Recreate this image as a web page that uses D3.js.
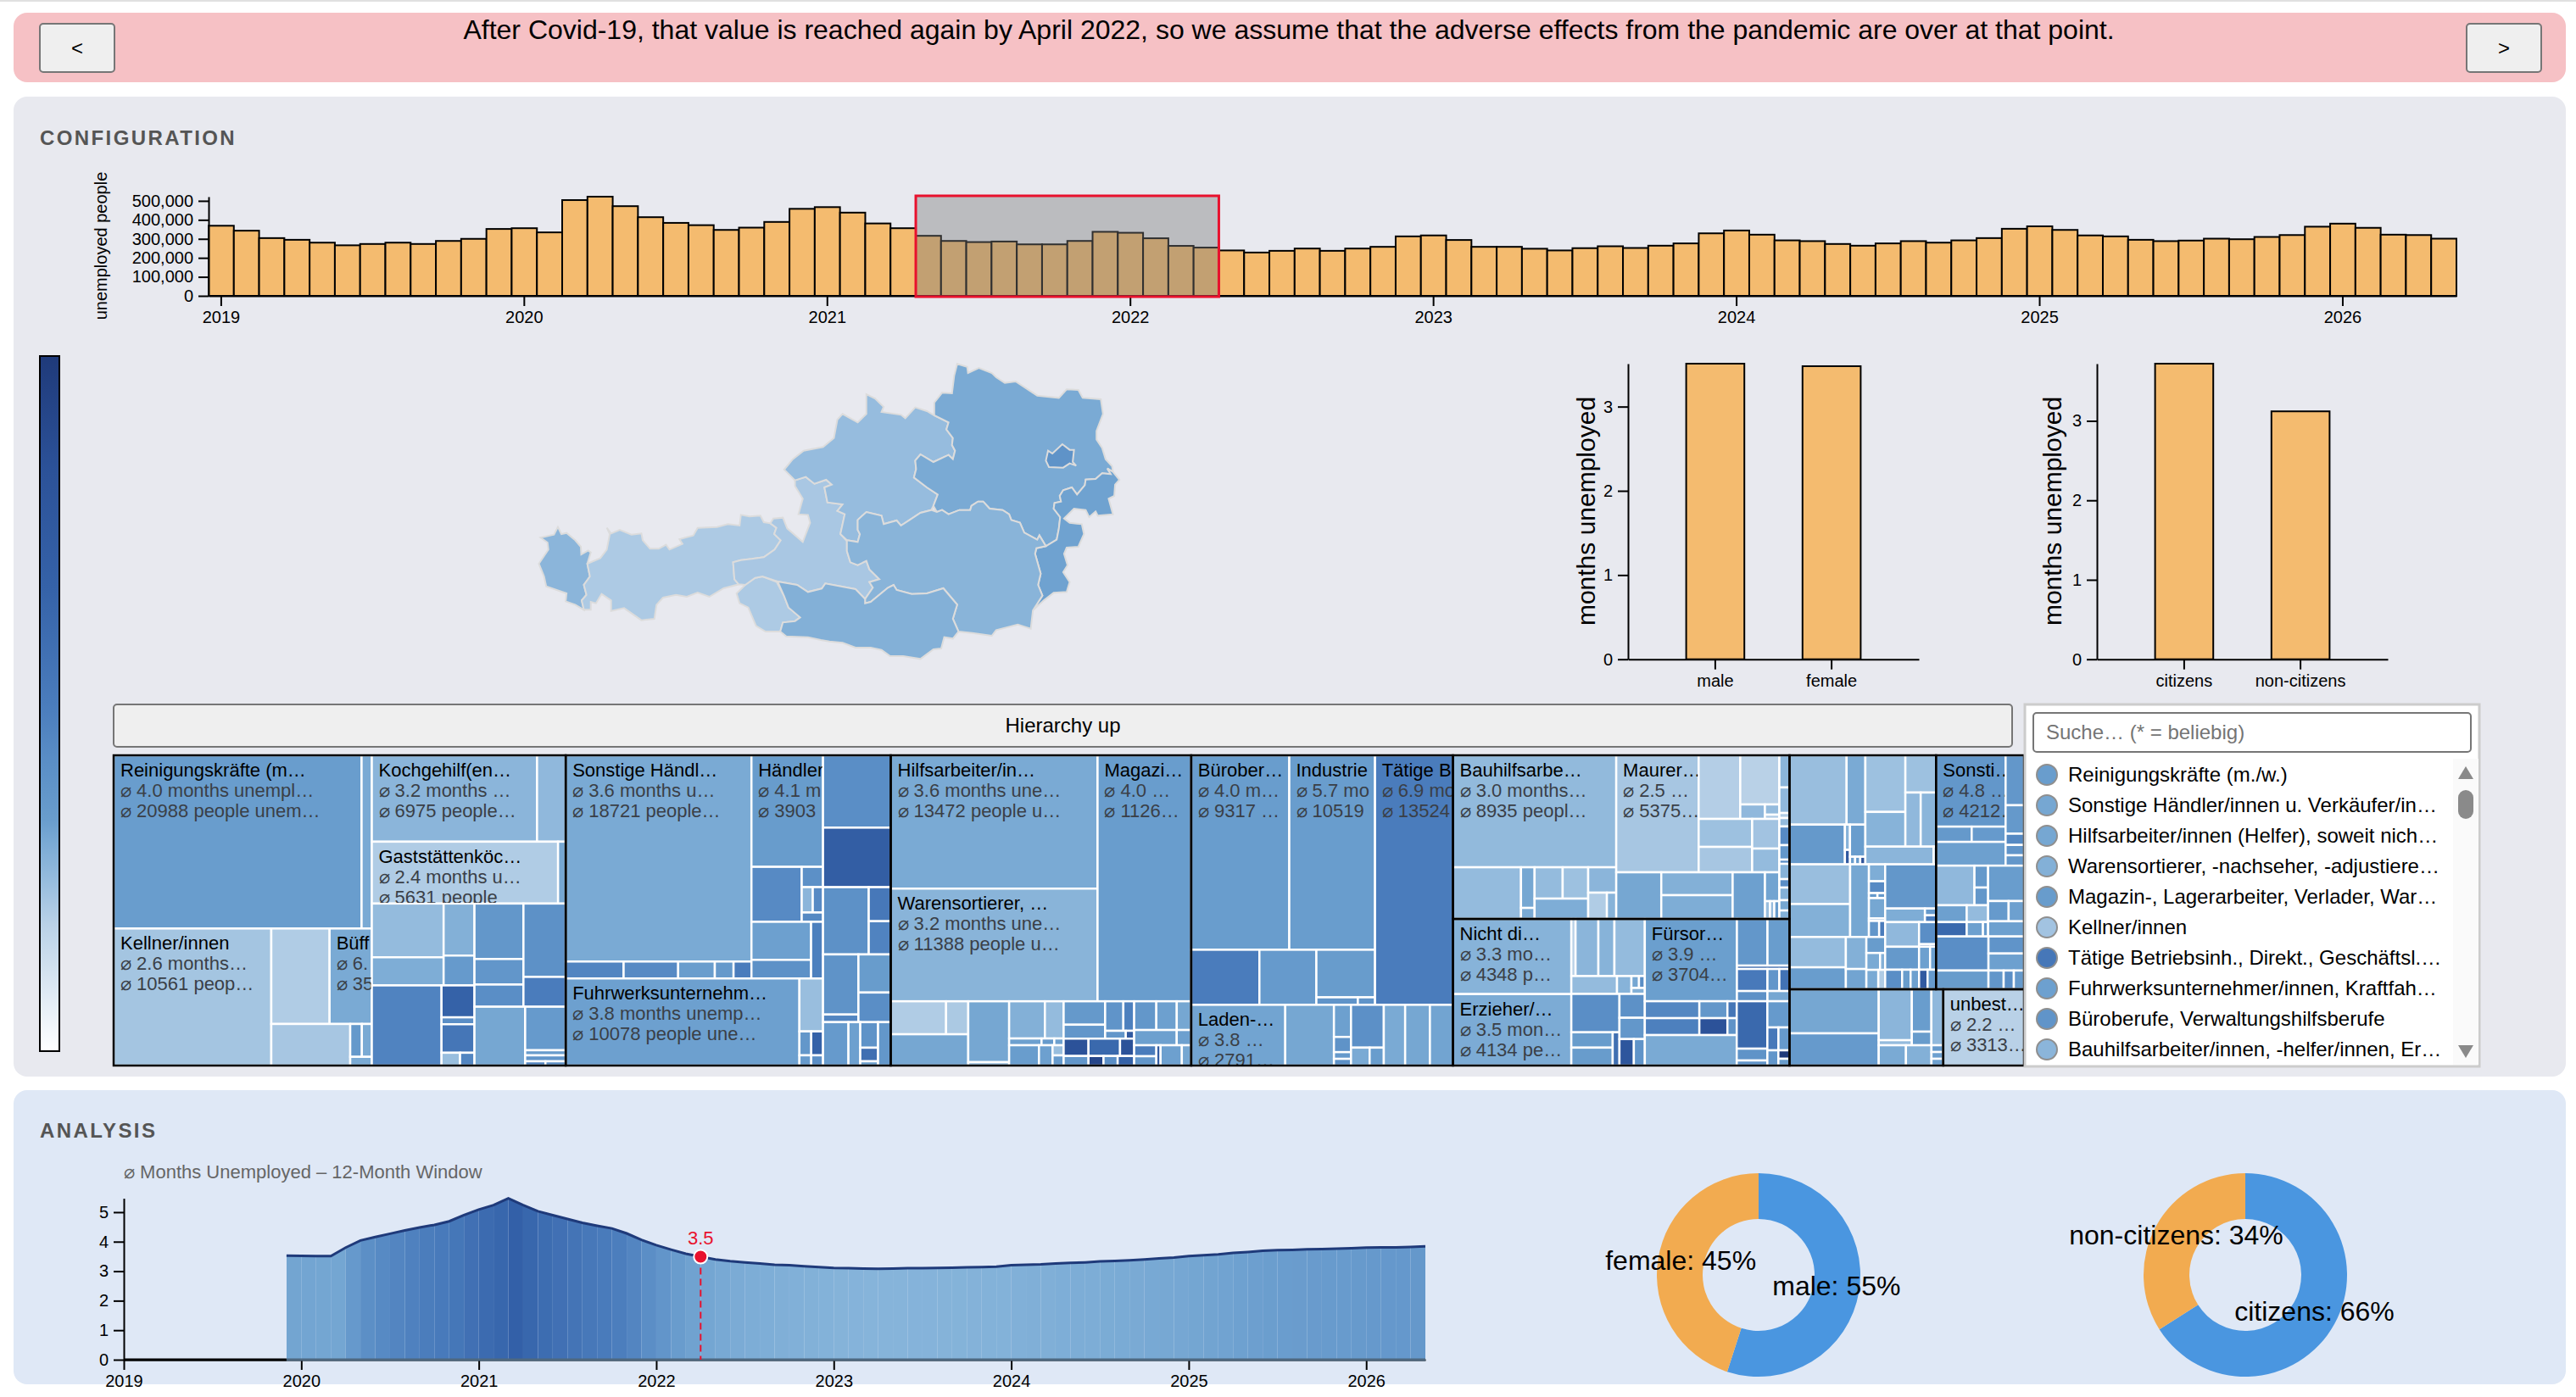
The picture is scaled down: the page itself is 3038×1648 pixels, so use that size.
<!DOCTYPE html>
<html lang="en">
<head>
<meta charset="UTF-8">
<title>Unemployment explorer</title>
<style>
    html, body { margin: 0; padding: 0; background: #fff; overflow: hidden; }
    svg { display: block; font-family: "Liberation Sans", Arial, sans-serif; }
    .axis path, .axis line { stroke: #000; stroke-width: 2px; }
    .axis text { font-size: 20px; fill: #000; font-family: "Liberation Sans", Arial, sans-serif; }
</style>
</head>
<body>
<script src="https://d3js.org/d3.v7.min.js"></script>
<script>
    const storyText = 'After Covid-19, that value is reached again by April 2022, so we assume that the adverse effects from the pandemic are over at that point.'

    // one entry per month, 2019-01 .. 2026-05
    const monthLabels = d3.range(89).map(i => `${2019 + Math.floor(i / 12)}-${String(i % 12 + 1).padStart(2, '0')}`)
    const januaries = monthLabels.filter(m => m.endsWith('-01'))
    const selectedFrom = '2021-05'
    const selectedTo = '2022-04'

    const unemployedPeople = [
        369000, 343000, 304000, 295000, 280000, 266000, 273000, 280000, 273000, 289000, 300000, 352000,
        356000, 334000, 504000, 522000, 472000, 414000, 384000, 372000, 347000, 359000, 389000, 458000,
        467000, 438000, 381000, 356000, 316000, 289000, 283000, 286000, 271000, 271000, 289000, 337000,
        332000, 303000, 263000, 254000, 239000, 228000, 237000, 249000, 237000, 249000, 258000, 313000,
        318000, 294000, 258000, 258000, 248000, 239000, 251000, 261000, 252000, 264000, 276000, 329000,
        344000, 322000, 292000, 288000, 273000, 264000, 276000, 288000, 280000, 292000, 304000, 353000,
        366000, 347000, 318000, 313000, 295000, 288000, 291000, 301000, 298000, 310000, 320000, 364000,
        380000, 358000, 322000, 320000, 301000
    ]

    // no 12-month window before 2019-12
    const windowMonths = [
        null, null, null, null, null, null, null, null, null, null, null, 3.53,
        3.52, 3.51, 3.51, 3.80, 4.04, 4.16, 4.27, 4.38, 4.48, 4.57, 4.69, 4.90,
        5.09, 5.24, 5.47, 5.24, 5.03, 4.90, 4.77, 4.64, 4.54, 4.45, 4.28, 4.06,
        3.88, 3.73, 3.59, 3.49, 3.40, 3.34, 3.30, 3.26, 3.22, 3.20, 3.17, 3.14,
        3.11, 3.10, 3.09, 3.08, 3.09, 3.10, 3.10, 3.11, 3.12, 3.13, 3.14, 3.15,
        3.20, 3.22, 3.23, 3.26, 3.28, 3.30, 3.33, 3.35, 3.37, 3.40, 3.43, 3.46,
        3.51, 3.54, 3.57, 3.62, 3.65, 3.69, 3.71, 3.72, 3.74, 3.75, 3.76, 3.78,
        3.80, 3.81, 3.81, 3.82, 3.84
    ]

    const genderLabels = ['male', 'female']
    const genderMonths = [3.51, 3.48]
    const genderShare = [55, 45]
    const citizenLabels = ['citizens', 'non-citizens']
    const citizenMonths = [3.72, 3.12]
    const citizenShare = [66, 34]

    const regionNames = ['Vorarlberg', 'Tirol', 'Osttirol', 'Salzburg', 'Oberösterreich', 'Niederösterreich', 'Wien', 'Burgenland', 'Steiermark', 'Kärnten']
    const regionMonths = [3.2, 2.45, 2.45, 2.55, 2.95, 3.6, 4.7, 3.85, 3.25, 3.4]
    // outlines on a 1568 x 1260 grid
    const regionOutlines = [
        [[152,703],[183,692],[192,665],[200,690],[212,686],[232,712],[245,735],[246,762],[262,748],[268,755],[260,795],[266,840],[252,870],[258,905],[247,925],[252,958],[232,940],[210,928],[212,900],[165,875],[160,840],[148,795],[170,745],[168,720]],
        [[260,795],[290,775],[305,745],[312,690],[305,668],[315,688],[335,675],[362,692],[385,688],[388,712],[405,742],[425,742],[442,728],[450,745],[480,725],[473,708],[505,695],[515,668],[560,665],[585,655],[612,660],[615,622],[635,628],[660,625],[668,648],[683,652],[697,668],[692,690],[707,712],[693,745],[668,772],[640,778],[615,782],[597,790],[600,850],[610,868],[575,882],[542,912],[515,897],[490,912],[465,905],[435,915],[420,940],[415,990],[385,995],[345,952],[315,962],[315,925],[293,902],[280,935],[268,930],[268,958],[252,958],[247,925],[258,905],[252,870],[266,840]],
        [[625,870],[648,845],[665,840],[698,860],[715,910],[725,950],[752,985],[740,998],[712,1003],[706,1035],[672,1035],[650,1015],[632,950],[612,935],[605,900]],
        [[740,500],[765,488],[785,512],[812,498],[825,515],[808,525],[815,578],[850,585],[838,608],[855,620],[845,690],[860,715],[860,750],[868,790],[885,800],[905,785],[912,815],[935,850],[912,860],[920,880],[902,920],[880,885],[810,865],[802,883],[770,895],[745,870],[700,858],[665,840],[648,845],[625,870],[610,868],[600,850],[597,790],[615,782],[640,778],[668,772],[693,745],[707,712],[692,690],[697,668],[683,652],[690,635],[712,632],[722,670],[758,718],[775,650],[770,622],[748,620],[758,565],[740,520]],
        [[715,462],[735,425],[760,395],[805,382],[830,350],[838,285],[850,265],[885,295],[905,265],[905,195],[925,210],[945,240],[940,258],[985,268],[995,280],[1018,242],[1045,255],[1062,270],[1095,295],[1090,320],[1105,350],[1103,375],[1110,395],[1105,425],[1095,410],[1060,435],[1030,408],[1018,430],[1020,460],[1015,490],[1045,525],[1070,550],[1060,590],[1055,605],[1030,615],[1005,640],[985,660],[975,642],[945,655],[940,625],[905,612],[885,640],[885,675],[890,690],[885,718],[860,712],[845,690],[855,620],[838,608],[850,585],[815,578],[808,525],[825,515],[812,498],[785,512],[765,488],[740,500]],
        [[1115,88],[1138,98],[1140,120],[1165,102],[1195,120],[1205,135],[1225,155],[1250,150],[1300,200],[1350,208],[1368,178],[1395,180],[1405,208],[1447,213],[1452,265],[1437,325],[1437,355],[1450,385],[1458,425],[1473,450],[1475,470],[1462,458],[1470,478],[1450,475],[1435,495],[1412,497],[1410,517],[1392,550],[1380,525],[1360,535],[1352,555],[1355,575],[1340,580],[1338,600],[1353,630],[1350,670],[1345,710],[1320,733],[1305,695],[1300,710],[1270,685],[1260,650],[1240,640],[1235,620],[1220,605],[1190,600],[1175,575],[1163,575],[1148,590],[1145,605],[1120,605],[1095,620],[1080,605],[1068,612],[1060,590],[1070,550],[1045,525],[1015,490],[1020,460],[1018,430],[1030,408],[1060,435],[1095,410],[1105,425],[1110,395],[1103,375],[1105,350],[1090,320],[1095,295],[1062,270],[1062,225],[1080,190],[1103,192],[1108,130]],
        [[1358,372],[1375,392],[1385,392],[1382,435],[1390,448],[1375,440],[1360,455],[1327,453],[1320,430],[1325,395],[1335,405]],
        [[1475,470],[1490,498],[1480,515],[1478,555],[1465,565],[1475,620],[1440,625],[1435,610],[1420,630],[1412,605],[1385,600],[1362,635],[1375,650],[1403,655],[1408,690],[1395,735],[1368,738],[1362,760],[1370,800],[1360,825],[1375,860],[1368,895],[1338,898],[1315,925],[1290,960],[1312,908],[1302,870],[1308,830],[1295,760],[1298,740],[1320,733],[1345,710],[1350,670],[1353,630],[1338,600],[1340,580],[1355,575],[1352,555],[1360,535],[1380,525],[1392,550],[1410,517],[1412,497],[1435,495],[1450,475],[1470,478],[1462,458]],
        [[860,712],[885,718],[890,690],[885,675],[885,640],[905,612],[940,625],[945,655],[975,642],[985,660],[1005,640],[1030,615],[1055,605],[1068,612],[1080,605],[1095,620],[1120,605],[1145,605],[1148,590],[1163,575],[1175,575],[1190,600],[1220,605],[1235,620],[1240,640],[1260,650],[1270,685],[1300,710],[1305,695],[1320,733],[1298,740],[1295,760],[1308,830],[1302,870],[1312,908],[1290,960],[1285,1025],[1255,1010],[1205,1030],[1195,1050],[1150,1040],[1118,1035],[1105,990],[1115,940],[1083,882],[1045,900],[1010,902],[975,888],[968,870],[955,880],[915,930],[902,935],[902,920],[920,880],[912,860],[935,850],[912,815],[905,785],[885,800],[868,790],[860,750]],
        [[700,858],[745,870],[770,895],[802,883],[810,865],[880,885],[902,920],[902,935],[915,930],[955,880],[968,870],[975,888],[1010,902],[1045,900],[1083,882],[1115,940],[1105,990],[1118,1035],[1105,1060],[1085,1055],[1078,1095],[1060,1098],[1030,1132],[990,1122],[960,1122],[940,1100],[915,1092],[880,1092],[850,1075],[820,1070],[800,1065],[770,1055],[720,1052],[706,1035],[712,1003],[740,998],[752,985],[725,950],[715,910]]
    ]

    const occupationList = [
        ['Reinigungskräfte (m./w.)', 4.0],
        ['Sonstige Händler/innen u. Verkäufer/in…', 3.7],
        ['Hilfsarbeiter/innen (Helfer), soweit nich…', 3.7],
        ['Warensortierer, -nachseher, -adjustiere…', 3.4],
        ['Magazin-, Lagerarbeiter, Verlader, War…', 4.1],
        ['Kellner/innen', 2.7],
        ['Tätige Betriebsinh., Direkt., Geschäftsl.…', 6.4],
        ['Fuhrwerksunternehmer/innen, Kraftfah…', 3.9],
        ['Büroberufe, Verwaltungshilfsberufe', 4.6],
        ['Bauhilfsarbeiter/innen, -helfer/innen, Er…', 3.2]
    ]

    // treemap tree: H = side by side, V = stacked, L = people, months, label lines
    const H = (...children) => ({ dir: 'h', children })
    const V = (...children) => ({ dir: 'v', children })
    const L = (people, months, label) => ({ people, months, label })
    const group = node => Object.assign(node, { isGroup: true })

    const hospitality = group(H(
        V(
            H(L(20988, 4.0, ['Reinigungskräfte (m…', '⌀ 4.0 months unempl…', '⌀ 20988 people unem…']), L(866, 3.6)),
            H(
                L(10561, 2.65, ['Kellner/innen', '⌀ 2.6 months…', '⌀ 10561 peop…']),
                V(
                    H(L(2720, 2.4), L(1971, 3.6, ['Büff', '⌀ 6.', '⌀ 35'])),
                    H(L(1604, 2.6), V(H(L(187, 4.3), L(160, 3.6)), L(92, 3.6)))
                )
            )
        ),
        V(
            H(L(6975, 3.2, ['Kochgehilf(en…', '⌀ 3.2 months …', '⌀ 6975 people…']), L(1209, 3.1)),
            H(L(5631, 2.4, ['Gaststättenköc…', '⌀ 2.4 months u…', '⌀ 5631 people']), L(231, 3.7)),
            H(
                V(
                    H(V(L(1885, 3.0), L(987, 3.5)), V(L(784, 3.4), L(450, 4.2))),
                    H(L(2730, 5.6), V(L(514, 8), L(111, 5), L(459, 6.5), H(L(116, 2.9), L(90, 5.5))))
                ),
                V(
                    H(V(L(1327, 4.4), L(612, 4.5), L(531, 5)), V(L(1514, 4.8), L(616, 6))),
                    H(L(1457, 3.7), V(L(862, 4.2), L(101, 4.1), L(118, 4.5), H(L(42, 5.5), L(42, 5))))
                )
            )
        )
    ))

    const retail = group(H(
        V(
            H(
                V(
                    L(18721, 3.6, ['Sonstige Händl…', '⌀ 3.6 months u…', '⌀ 18721 people…']),
                    H(L(479, 5.5), L(451, 5.2), L(303, 4.0), L(155, 4.3), L(148, 6))
                ),
                V(
                    L(3903, 4.1, ['Händler', '⌀ 4.1 m', '⌀ 3903']),
                    H(L(1350, 5.2), V(L(211, 4.9), H(L(137, 3.2), L(127, 5.2)), L(97, 5.3))),
                    H(V(L(1109, 3.9), L(542, 4.8)), L(330, 5.8))
                )
            ),
            H(
                L(9950, 3.9, ['Fuhrwerksunternehm…', '⌀ 3.8 months unemp…', '⌀ 10078 people une…']),
                V(L(611, 2.9), H(L(138, 4.4), L(138, 8)), H(L(59, 4.2), L(59, 5)))
            )
        ),
        V(
            L(2394, 5), L(1971, 8.5),
            H(L(1502, 4.8), V(L(366, 6.3), L(357, 5.6))),
            H(V(L(1040, 4.7), L(132, 5.5)), V(L(602, 4.1), L(468, 5))),
            H(L(539, 4.2), L(251, 3.9), V(L(222, 4.7), L(118, 7), L(37, 4)), L(269, 4.4))
        )
    ))

    const helpers = group(V(
        H(
            V(
                L(13472, 3.6, ['Hilfsarbeiter/in…', '⌀ 3.6 months une…', '⌀ 13472 people u…']),
                L(11388, 3.25, ['Warensortierer, …', '⌀ 3.2 months une…', '⌀ 11388 people u…'])
            ),
            L(11260, 4.0, ['Magazi…', '⌀ 4.0 …', '⌀ 1126…'])
        ),
        H(
            V(H(L(892, 2.4), L(357, 2.5)), L(1185, 3.7)),
            V(L(1216, 3.7), L(68, 3.0)),
            V(
                H(L(650, 3.4), L(341, 3.0)),
                H(L(107, 3.9), L(42, 4.2), L(31, 3.9)),
                H(L(296, 4.0), L(135, 3.9), V(L(55, 2.9), L(55, 4.2)))
            ),
            V(
                H(V(L(475, 4.3), L(282, 4.5)), V(H(L(263, 4.6), L(156, 5.8)), H(L(79, 4.5), L(32, 9)))),
                H(L(211, 10), L(268, 7.5), L(120, 10)),
                H(L(116, 4.5), L(70, 11), L(66, 5), L(77, 8))
            ),
            V(
                H(L(311, 4.4), L(287, 3.9), L(203, 3.7)),
                H(L(317, 3.9), L(108, 3.9)),
                H(V(L(119, 6), L(101, 4.5)), L(42, 9), L(211, 3.9), L(93, 3.7))
            )
        )
    ))

    const management = group(V(
        H(
            V(
                H(
                    L(9317, 4.0, ['Bürober…', '⌀ 4.0 m…', '⌀ 9317 …']),
                    L(8150, 4.0, ['Industrie', '⌀ 5.7 mo', '⌀ 10519'])
                ),
                H(L(1835, 6), L(1533, 4.2), V(L(1364, 4.1), H(L(152, 4.6), L(63, 4.6))))
            ),
            L(9500, 6.0, ['Tätige Be', '⌀ 6.9 mo', '⌀ 13524'])
        ),
        H(
            L(2791, 3.8, ['Laden-…', '⌀ 3.8 …', '⌀ 2791…']),
            L(1445, 3.7),
            V(L(268, 3.9), L(127, 4.7), L(56, 4.3), L(56, 4.8)),
            V(L(686, 4.9), H(L(163, 3.6), L(124, 4))),
            L(634, 3.6), L(735, 3.7), L(684, 3.8)
        )
    ))

    const construction = group(H(
        V(
            L(8935, 3.05, ['Bauhilfsarbe…', '⌀ 3.0 months…', '⌀ 8935 peopl…']),
            H(
                L(1718, 3.0),
                V(L(270, 3.7), L(73, 3.6)),
                V(H(L(430, 3.0), L(391, 2.8)), L(532, 3.5)),
                V(L(348, 3.2), H(L(240, 2.4), L(120, 3.3)))
            )
        ),
        V(
            H(
                L(4712, 2.6, ['Maurer…', '⌀ 2.5 …', '⌀ 5375…']),
                V(
                    H(L(1294, 2.3), V(L(939, 2.2), H(L(174, 3.1), V(L(72, 3.0), L(30, 2.4))))),
                    H(V(L(732, 2.8), L(665, 2.6)), V(L(394, 2.7), L(315, 3.0)))
                )
            ),
            H(
                L(1026, 3.7),
                V(L(798, 3.4), L(828, 3.5)),
                L(736, 3.9),
                V(L(203, 3.8), H(L(44, 2.9), L(37, 3.0), L(44, 4.1)))
            )
        ),
        V(L(160, 3.2), L(127, 3.1), L(25, 2.4), L(42, 3.0), L(93, 5.2), L(72, 4.4), L(21, 5), L(76, 3.3), L(42, 5), L(63, 3.4), L(51, 3.7), L(42, 3.4))
    ))

    const care = group(H(
        V(
            L(4348, 3.3, ['Nicht di…', '⌀ 3.3 mo…', '⌀ 4348 p…']),
            L(4134, 3.55, ['Erzieher/…', '⌀ 3.5 mon…', '⌀ 4134 pe…'])
        ),
        V(
            H(L(118, 2.2), L(637, 3.2), L(448, 3.3), L(849, 3.0)),
            H(L(399, 3.0), L(126, 3.3), V(H(L(44, 3.7), L(34, 5)), L(39, 3.4))),
            H(
                V(L(903, 5), H(V(L(310, 4.1), L(362, 4.1)), L(110, 7))),
                V(L(296, 4.8), L(264, 4.4), H(L(186, 9.5), L(142, 4.6)))
            )
        ),
        V(
            H(
                L(3704, 3.95, ['Fürsor…', '⌀ 3.9 …', '⌀ 3704…']),
                V(
                    H(L(697, 4.4), L(503, 4.0)),
                    L(87, 7.5),
                    H(L(329, 6.2), L(128, 4.5), L(110, 6.8)),
                    H(L(152, 4.8), L(110, 3.7))
                )
            ),
            H(
                V(
                    H(L(451, 5.4), L(232, 4.4), L(77, 6.5)),
                    H(L(451, 5.8), L(232, 10), L(77, 4.7)),
                    L(1369, 3.6)
                ),
                H(
                    V(L(710, 7.5), L(177, 4.7), L(76, 4.6)),
                    V(L(284, 4.2), H(L(124, 6.3), L(124, 4.2)), H(L(82, 4.5), V(L(46, 12), L(37, 4))))
                )
            )
        )
    ))

    const assorted = group(V(
        H(
            V(
                H(L(1934, 2.9), L(635, 3.6)),
                H(L(1075, 4.3), V(L(63, 3.3), L(36, 9)), V(L(241, 4.0), H(L(19, 4), L(19, 4.3), L(19, 10))))
            ),
            V(
                H(
                    V(L(1108, 2.8), L(678, 3.3)),
                    V(L(558, 2.8), H(L(405, 3.1), L(405, 3.2)))
                ),
                H(L(591, 3.2), L(22, 2.2))
            )
        ),
        H(
            V(
                H(
                    V(L(1175, 2.9), L(975, 3.4)),
                    L(666, 3.7),
                    V(L(134, 3.5), L(94, 5.2), H(L(21, 4.3), L(19, 4.3)), L(161, 3.7), L(20, 5), H(L(80, 4.5), L(47, 6)))
                ),
                H(
                    V(L(836, 3.0), L(604, 4.0)),
                    V(L(321, 3.4), L(203, 3.8)),
                    V(L(147, 4.1), H(L(113, 3.6), L(42, 3.4)), H(L(113, 3.6), L(65, 2.4)))
                )
            ),
            V(
                L(1098, 4.4),
                H(L(265, 3.5), V(L(37, 4.2), L(37, 6))),
                H(V(L(408, 3.1), L(380, 4.3)), V(L(183, 5), L(21, 8), H(L(124, 3.9), L(67, 3.9)))),
                H(L(162, 5), L(81, 4), L(81, 3.9), L(81, 9), L(81, 4.2))
            )
        )
    ))

    const other = group(V(
        H(
            V(
                L(2425, 4.4, ['Sonsti…', '⌀ 4.8 …', '⌀ 4212…']),
                H(L(266, 4.3), L(253, 4.2)),
                L(808, 3.9)
            ),
            V(L(449, 4.4), L(256, 4.3), L(101, 5.3), L(93, 4.6), L(93, 4.4))
        ),
        H(
            V(
                H(L(744, 3.1), V(L(146, 4.3), L(118, 4.4))),
                H(V(L(253, 3.9), L(215, 7.5)), V(L(176, 3.0), H(L(114, 3.9), L(36, 4.2))))
            ),
            V(L(621, 4.0), H(L(203, 4.2), L(152, 3.9)), L(266, 3.9))
        ),
        H(
            V(L(873, 5), L(480, 4.1)),
            V(L(296, 4.6), L(296, 3.9), H(L(139, 4.5), L(93, 5), L(93, 4.3)))
        )
    ))

    const transport = group(H(
        V(L(1922, 3.7), L(1404, 4.2)),
        V(
            H(V(L(824, 3.2), L(82, 3.0)), V(L(405, 4.0), L(130, 4.1)), L(325, 3.1)),
            H(L(270, 3.6), L(253, 3.4), V(L(39, 4.3), L(39, 3.9), L(39, 3.9)))
        )
    ))

    const unknown = group(L(3010, 2.2, ['unbest…', '⌀ 2.2 …', '⌀ 3313…']))

    const occupationTree = H(
        hospitality, retail, helpers, management,
        V(construction, care),
        V(H(assorted, other), H(transport, unknown))
    )

    const barFill = '#f4bb6f'
    const monthsColor = d3.scaleLinear()
        .domain([0, 2.2, 3, 3.6, 4, 5, 6, 8, 10, 12])
        .range(['#ffffff', '#b9d1e7', '#94bbdd', '#7aaad4', '#699dcd', '#5a8ec6', '#4a7cbc', '#3562a8', '#2c5299', '#1f3a7a'])
    const windowColor = d3.scaleLinear()
        .domain([3.08, 3.5, 3.84, 4.5, 5.47])
        .range(['#86b4da', '#74a6d2', '#6497cb', '#4a7cbc', '#3360a8'])

    const svg = d3.select('body').append('svg').attr('width', 3038).attr('height', 1648)

    drawFrames()
    drawTimeline()
    drawColorBar()
    drawMap()
    drawMonthBars(genderLabels, genderMonths, 1920, 2263, 3.51, 1881)
    drawMonthBars(citizenLabels, citizenMonths, 2473, 2816, 3.72, 2431)
    drawTreemap()
    drawSearchPanel()
    drawWindowChart()
    drawDonut(genderLabels, genderShare, 2074)
    drawDonut(citizenLabels, citizenShare, 2648)

    function button(x, y, w, h, label, fontSize) {
        svg.append('rect').attr('x', x).attr('y', y).attr('width', w).attr('height', h).attr('rx', 4)
            .attr('fill', '#efefef').attr('stroke', '#767676').attr('stroke-width', 2)
        svg.append('text').attr('x', x + w / 2).attr('y', y + h / 2 + fontSize * 0.35)
            .attr('text-anchor', 'middle').attr('font-size', fontSize).text(label)
    }

    function panel(y, h, fill) {
        svg.append('rect').attr('x', 16).attr('y', y).attr('width', 3010).attr('height', h).attr('rx', 16).attr('fill', fill)
    }

    function heading(text, y) {
        svg.append('text').attr('x', 47).attr('y', y).attr('font-size', 24).attr('font-weight', 'bold')
            .attr('letter-spacing', 2.4).attr('fill', '#555').text(text)
    }

    function drawFrames() {
        svg.append('rect').attr('width', 3038).attr('height', 2).attr('fill', '#e0e0e0')
        panel(15, 82, '#f6c1c5')
        panel(114, 1156, '#e8e9ef')
        panel(1286, 347, '#dfe8f6')
        svg.append('text').attr('x', 1520).attr('y', 46).attr('text-anchor', 'middle').attr('font-size', 32).text(storyText)
        button(47, 28, 88, 57, '<', 24)
        button(2909, 28, 88, 57, '>', 24)
        heading('CONFIGURATION', 171)
        heading('ANALYSIS', 1342)
    }

    function drawTimeline() {
        const x = d3.scaleBand().domain(monthLabels).range([246, 2897])
        const y = d3.scaleLinear().domain([0, d3.max(unemployedPeople)]).range([349, 232])

        svg.append('g').selectAll('rect').data(unemployedPeople).join('rect')
            .attr('x', (_, i) => x(monthLabels[i]))
            .attr('y', d => y(d))
            .attr('width', x.bandwidth())
            .attr('height', d => y(0) - y(d))
            .attr('fill', barFill).attr('stroke', '#000').attr('stroke-width', 2)

        svg.append('g').attr('class', 'axis').attr('transform', 'translate(0,349)')
            .call(d3.axisBottom(x).tickValues(januaries).tickFormat(m => m.slice(0, 4)).tickSize(12).tickPadding(6).tickSizeOuter(0))
        svg.append('g').attr('class', 'axis').attr('transform', 'translate(246,0)')
            .call(d3.axisLeft(y).ticks(6).tickFormat(d3.format(',')).tickSize(12).tickPadding(6).tickSizeOuter(0))

        svg.append('text').attr('transform', 'translate(126,290) rotate(-90)').attr('text-anchor', 'middle')
            .attr('font-size', 20).text('unemployed people')

        // selected window
        svg.append('rect')
            .attr('x', x(selectedFrom)).attr('y', 231)
            .attr('width', x(selectedTo) + x.bandwidth() - x(selectedFrom)).attr('height', 119)
            .attr('fill', '#777').attr('fill-opacity', 0.4)
            .attr('stroke', '#e8112d').attr('stroke-width', 3)
    }

    function drawColorBar() {
        const grad = svg.append('defs').append('linearGradient').attr('id', 'monthsRamp')
            .attr('x1', 0).attr('y1', 0).attr('x2', 0).attr('y2', 1)
        const top = monthsColor.domain()[monthsColor.domain().length - 1]
        grad.selectAll('stop').data(monthsColor.domain().slice().reverse()).join('stop')
            .attr('offset', d => 1 - d / top)
            .attr('stop-color', d => monthsColor(d))
        svg.append('rect').attr('x', 47).attr('y', 420).attr('width', 23).attr('height', 820)
            .attr('fill', 'url(#monthsRamp)').attr('stroke', '#000').attr('stroke-width', 2)
    }

    function drawMap() {
        const gridX = d3.scaleLinear().domain([0, 1568]).range([560, 1360])
        const gridY = d3.scaleLinear().domain([0, 1260]).range([400, 820])
        const path = d3.geoPath(d3.geoTransform({
            point(px, py) { this.stream.point(gridX(px), gridY(py)) }
        }))
        svg.append('g').selectAll('path').data(regionOutlines).join('path')
            .attr('d', ring => path({ type: 'Polygon', coordinates: [ring.concat([ring[0]])] }))
            .attr('data-region', (_, i) => regionNames[i])
            .attr('fill', (_, i) => monthsColor(regionMonths[i]))
            .attr('stroke', '#dcdcdc').attr('stroke-width', 2)
    }

    function drawMonthBars(labels, values, left, right, top, labelX) {
        const x = d3.scaleBand().domain(labels).range([left, right]).padding(0.5)
        const y = d3.scaleLinear().domain([0, top]).range([777.7, 429])
        svg.append('g').selectAll('rect').data(values).join('rect')
            .attr('x', (_, i) => x(labels[i]))
            .attr('y', d => y(d))
            .attr('width', x.bandwidth())
            .attr('height', d => y(0) - y(d))
            .attr('fill', barFill).attr('stroke', '#000').attr('stroke-width', 2)
        svg.append('g').attr('class', 'axis').attr('transform', 'translate(0,777.7)')
            .call(d3.axisBottom(x).tickSize(12).tickPadding(6).tickSizeOuter(0))
        svg.append('g').attr('class', 'axis').attr('transform', `translate(${left},0)`)
            .call(d3.axisLeft(y).ticks(3).tickFormat(d3.format('d')).tickSize(12).tickPadding(6).tickSizeOuter(0))
        svg.append('text').attr('transform', `translate(${labelX},603) rotate(-90)`).attr('text-anchor', 'middle')
            .attr('font-size', 30).text('months unemployed')
    }

    function drawTreemap() {
        button(134, 831, 2239, 50, 'Hierarchy up', 24)

        const root = d3.hierarchy(occupationTree, d => d.children).sum(d => d.children ? 0 : d.people)
        d3.treemap()
            .size([2253, 366])
            .tile((node, x0, y0, x1, y1) => {
                const tile = node.data.dir === 'h' ? d3.treemapDice : d3.treemapSlice
                tile(node, x0, y0, x1, y1)
            })(root)

        const g = svg.append('g').attr('transform', 'translate(134,891)')
        const leaves = root.leaves()

        g.selectAll('rect.cell').data(leaves).join('rect').attr('class', 'cell')
            .attr('x', d => d.x0).attr('y', d => d.y0)
            .attr('width', d => d.x1 - d.x0).attr('height', d => d.y1 - d.y0)
            .attr('fill', d => monthsColor(d.data.months))
            .attr('stroke', '#fff').attr('stroke-width', 2.5)

        const labelled = leaves.filter(d => d.data.label)
        const defs = svg.append('defs')
        labelled.forEach((d, i) => {
            defs.append('clipPath').attr('id', `cellClip${i}`).append('rect')
                .attr('x', d.x0).attr('y', d.y0).attr('width', d.x1 - d.x0 - 1).attr('height', d.y1 - d.y0 - 1)
        })
        const texts = g.selectAll('g.cellLabel').data(labelled).join('g').attr('class', 'cellLabel')
            .attr('clip-path', (_, i) => `url(#cellClip${i})`)
        texts.selectAll('text').data(d => d.data.label.map((line, i) => ({ line, i, x: d.x0 + 8, y: d.y0 + 25 + i * 24 }))).join('text')
            .attr('x', t => t.x).attr('y', t => t.y)
            .attr('font-size', 22)
            .attr('fill', t => t.i ? '#3a3f47' : '#000')
            .text(t => t.line)

        g.selectAll('rect.group').data(root.descendants().filter(d => d.data.isGroup)).join('rect').attr('class', 'group')
            .attr('x', d => d.x0).attr('y', d => d.y0)
            .attr('width', d => d.x1 - d.x0).attr('height', d => d.y1 - d.y0)
            .attr('fill', 'none').attr('stroke', '#000').attr('stroke-width', 2.5)
    }

    function drawSearchPanel() {
        svg.append('rect').attr('x', 2388).attr('y', 831).attr('width', 536).attr('height', 427)
            .attr('fill', '#fff').attr('stroke', '#ccc').attr('stroke-width', 3)
        svg.append('rect').attr('x', 2398).attr('y', 841).attr('width', 516).attr('height', 46).attr('rx', 4)
            .attr('fill', '#fff').attr('stroke', '#767676').attr('stroke-width', 2)
        svg.append('text').attr('x', 2413).attr('y', 872).attr('font-size', 24).attr('fill', '#757575').text('Suche… (* = beliebig)')

        const row = d3.scaleLinear().domain([0, 1]).range([914, 950])
        const items = svg.append('g').selectAll('g').data(occupationList).join('g')
            .attr('transform', (_, i) => `translate(0,${row(i)})`)
        items.append('circle').attr('cx', 2414).attr('r', 12)
            .attr('fill', d => monthsColor(d[1])).attr('stroke', '#8f8f8f').attr('stroke-width', 2)
        items.append('text').attr('x', 2439).attr('y', 8).attr('font-size', 24).text(d => d[0])

        // scrollbar
        svg.append('rect').attr('x', 2893).attr('y', 895).attr('width', 30).attr('height', 361).attr('fill', '#fafafa')
        svg.append('path').attr('d', 'M2908,904 L2917,919 L2899,919 Z').attr('fill', '#8a8a8a')
        svg.append('path').attr('d', 'M2908,1248 L2917,1233 L2899,1233 Z').attr('fill', '#8a8a8a')
        svg.append('rect').attr('x', 2899).attr('y', 932).attr('width', 18).attr('height', 34).attr('rx', 9).attr('fill', '#8a8a8a')
    }

    function drawWindowChart() {
        const x = d3.scalePoint().domain(monthLabels).range([146, 1681])
        const y = d3.scaleLinear().domain([0, d3.max(windowMonths)]).range([1604, 1413.6])
        const points = monthLabels.map((m, i) => ({ m, v: windowMonths[i] })).filter(d => d.v !== null)

        svg.append('text').attr('x', 146).attr('y', 1390).attr('font-size', 22).attr('fill', '#666')
            .text('⌀ Months Unemployed – 12-Month Window')

        const areaPath = d3.area().x(d => x(d.m)).y0(y(0)).y1(d => y(d.v))(points)
        svg.select('defs').append('clipPath').attr('id', 'windowClip').append('path').attr('d', areaPath)
        svg.append('g').attr('clip-path', 'url(#windowClip)')
            .selectAll('rect').data(points.slice(0, -1)).join('rect')
            .attr('x', d => x(d.m)).attr('y', y.range()[1]).attr('width', x.step()).attr('height', y(0) - y.range()[1])
            .attr('fill', d => windowColor(d.v))

        svg.append('g').attr('class', 'axis').attr('transform', 'translate(0,1604)')
            .call(d3.axisBottom(x).tickValues(januaries).tickFormat(m => m.slice(0, 4)).tickSize(12).tickPadding(6).tickSizeOuter(0))
        svg.append('g').attr('class', 'axis').attr('transform', 'translate(146,0)')
            .call(d3.axisLeft(y).ticks(5).tickSize(12).tickPadding(6).tickSizeOuter(0))

        svg.append('line').attr('x1', 146).attr('x2', x(points[0].m)).attr('y1', y(0)).attr('y2', y(0))
            .attr('stroke', '#000').attr('stroke-width', 3)
        svg.append('line').attr('x1', x(points[0].m)).attr('x2', 1681).attr('y1', y(0)).attr('y2', y(0))
            .attr('stroke', '#4e6880').attr('stroke-width', 3)
        svg.append('path').attr('d', d3.line().x(d => x(d.m)).y(d => y(d.v))(points))
            .attr('fill', 'none').attr('stroke', '#1f3a7a').attr('stroke-width', 3)

        const current = points.find(d => d.m === selectedTo)
        svg.append('line').attr('x1', x(current.m)).attr('x2', x(current.m)).attr('y1', y(current.v)).attr('y2', y(0))
            .attr('stroke', '#e8112d').attr('stroke-width', 2).attr('stroke-dasharray', '8 5')
        svg.append('circle').attr('cx', x(current.m)).attr('cy', y(current.v)).attr('r', 8)
            .attr('fill', '#e8112d').attr('stroke', '#fff').attr('stroke-width', 2)
        svg.append('text').attr('x', x(current.m)).attr('y', y(current.v) - 15).attr('text-anchor', 'middle')
            .attr('font-size', 22).attr('fill', '#e8112d').text(d3.format('.1f')(current.v))
    }

    function drawDonut(labels, shares, cx) {
        const pie = d3.pie().sort(null)(shares)
        const arc = d3.arc().innerRadius(66).outerRadius(120)
        const g = svg.append('g').attr('transform', `translate(${cx},1504)`)
        g.selectAll('path').data(pie).join('path')
            .attr('d', arc)
            .attr('fill', (_, i) => i ? '#f2ab50' : '#4a96e0')
        g.selectAll('text').data(pie).join('text')
            .attr('transform', d => `translate(${arc.centroid(d)})`)
            .attr('text-anchor', 'middle').attr('dy', '.28em').attr('font-size', 32)
            .text((d, i) => `${labels[i]}: ${shares[i]}%`)
    }
</script>
</body>
</html>
